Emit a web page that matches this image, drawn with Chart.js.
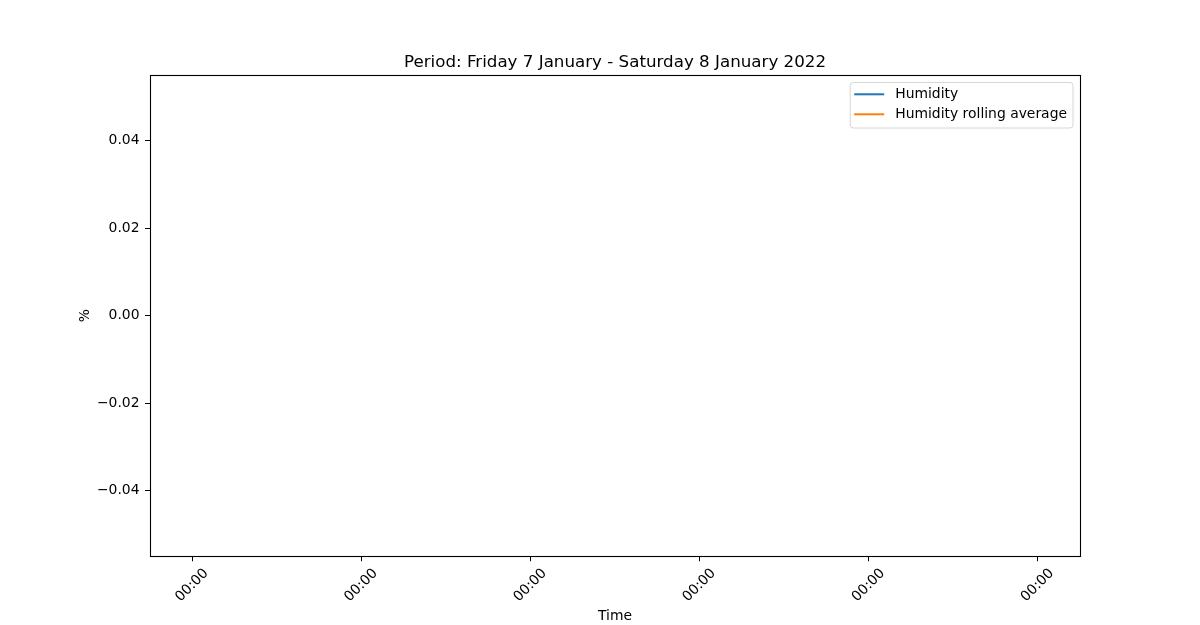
<!DOCTYPE html>
<html>
<head>
<meta charset="utf-8">
<script src="https://cdn.jsdelivr.net/npm/chart.js@4.4.0/dist/chart.umd.min.js"></script>
<style>
  body { margin: 0; background: #fff; }
  #chart { display: block; }
</style>
</head>
<body>
<canvas id="chart" width="1200" height="625"></canvas>
<script>
// no readings in this period, so both series are empty
const humidity = [];
const humidityRolling = [];

const xTickValues = [-0.05, -0.03, -0.01, 0.01, 0.03, 0.05];
const xTickLabels = ['00:00', '00:00', '00:00', '00:00', '00:00', '00:00'];
const yTickValues = [-0.04, -0.02, 0, 0.02, 0.04];
const xRange = [-0.055, 0.055];
const yRange = [-0.055, 0.055];

const FONT = "'DejaVu Sans', sans-serif";

// black box round the plot area
const frame = {
  id: 'frame',
  afterDraw(chart) {
    const a = chart.chartArea, ctx = chart.ctx;
    ctx.save();
    ctx.strokeStyle = '#000';
    ctx.lineWidth = 1.1;
    ctx.strokeRect(Math.round(a.left) + 0.5, Math.round(a.top) + 0.5,
      Math.round(a.right - a.left), Math.round(a.bottom - a.top));
    ctx.restore();
  }
};

// matplotlib style legend in the upper right corner
const legendBox = {
  id: 'legendBox',
  afterDraw(chart) {
    const a = chart.chartArea, ctx = chart.ctx;
    const sets = chart.data.datasets;
    ctx.save();
    ctx.font = '13.9px ' + FONT;
    const tw = Math.max(...sets.map(d => ctx.measureText(d.label).width));
    const w = tw + 45 + 6;
    const h = sets.length * 20 + 5.5;
    const x = a.right - 7 - w, y = a.top + 7.5;
    ctx.beginPath();
    ctx.roundRect(x, y, w, h, 3);
    ctx.fillStyle = 'rgba(255,255,255,0.8)';
    ctx.fill();
    ctx.strokeStyle = '#d6d6d6';
    ctx.lineWidth = 1;
    ctx.stroke();
    sets.forEach((d, i) => {
      const ly = y + 11.8 + i * 20;
      ctx.beginPath();
      ctx.moveTo(x + 4, ly);
      ctx.lineTo(x + 34, ly);
      ctx.strokeStyle = d.borderColor;
      ctx.lineWidth = 2;
      ctx.stroke();
      ctx.fillStyle = '#000';
      ctx.textBaseline = 'middle';
      ctx.fillText(d.label, x + 45, ly);
    });
    ctx.restore();
  }
};

new Chart(document.getElementById('chart'), {
  type: 'line',
  data: {
    datasets: [
      { label: 'Humidity', data: humidity, borderColor: '#1f77b4', borderWidth: 1.5, pointRadius: 0 },
      { label: 'Humidity rolling average', data: humidityRolling, borderColor: '#ff7f0e', borderWidth: 1.5, pointRadius: 0 }
    ]
  },
  options: {
    responsive: false,
    animation: false,
    devicePixelRatio: 1,
    layout: { padding: { left: 0, right: 120, top: 0, bottom: 0 } },
    plugins: {
      legend: { display: false },
      tooltip: { enabled: false },
      title: {
        display: true,
        fullSize: false,
        text: 'Period: Friday 7 January - Saturday 8 January 2022',
        color: '#000',
        font: { family: FONT, size: 16.7, weight: 'normal', lineHeight: 1.2 },
        padding: { top: 53, bottom: 1.96 }
      }
    },
    scales: {
      x: {
        type: 'linear',
        min: xRange[0],
        max: xRange[1],
        afterBuildTicks: s => { s.ticks = xTickValues.map(v => ({ value: v })); },
        afterFit: s => { s.height = 68.75; },
        border: { display: false },
        grid: { drawOnChartArea: false, drawTicks: true, tickLength: 5, color: '#000', lineWidth: 1 },
        ticks: {
          color: '#000',
          font: { family: FONT, size: 13.9 },
          minRotation: 45,
          maxRotation: 45,
          padding: 4,
          labelOffset: 14,
          callback: (v, i) => xTickLabels[i]
        },
        title: {
          display: true,
          text: 'Time',
          color: '#000',
          font: { family: FONT, size: 13.9, lineHeight: 1.2 },
          padding: { top: 0, bottom: 0 }
        }
      },
      y: {
        min: yRange[0],
        max: yRange[1],
        afterBuildTicks: s => { s.ticks = yTickValues.map(v => ({ value: v })); },
        afterFit: s => { s.width = 150; },
        border: { display: false },
        grid: { drawOnChartArea: false, drawTicks: true, tickLength: 5, color: '#000', lineWidth: 1 },
        ticks: {
          color: '#000',
          font: { family: FONT, size: 13.9 },
          padding: 5.5,
          callback: v => (v < 0 ? '\u2212' : '') + Math.abs(v).toFixed(2)
        },
        title: {
          display: true,
          text: '%',
          color: '#000',
          font: { family: FONT, size: 13.9, lineHeight: 1.2 },
          padding: { top: 77, bottom: 0 }
        }
      }
    }
  },
  plugins: [frame, legendBox]
});
</script>
</body>
</html>
